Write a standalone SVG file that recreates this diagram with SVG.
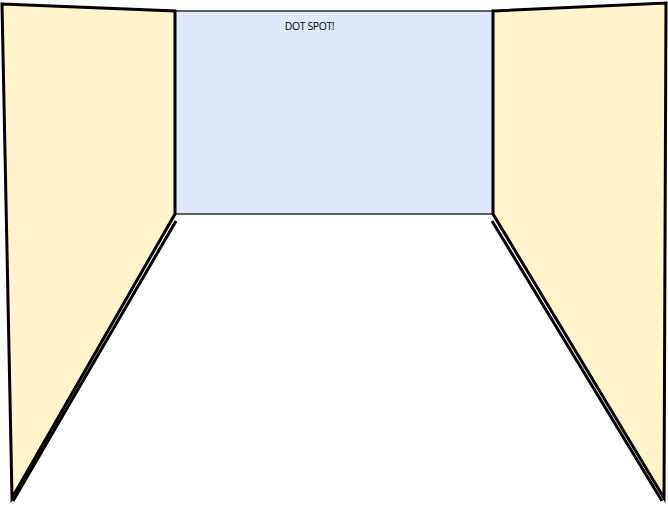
<svg xmlns="http://www.w3.org/2000/svg" width="668" height="508" viewBox="0 0 668 508">
<style>
.wall{fill:#fff4cc;stroke:#000;stroke-width:3;stroke-linejoin:miter}
.back{fill:#dfe8fc;stroke:#000;stroke-width:1.2}
.edge{fill:none;stroke:#000;stroke-width:3}
.lbl{font-family:"Open Sans","Liberation Sans",sans-serif;font-size:10.5px;fill:#000;letter-spacing:-0.4px}
</style>
<rect width="668" height="508" fill="#fff"/>
<g id="back-wall">
<rect class="back" x="175" y="11" width="318" height="203"/>
<text class="lbl" x="309.5" y="30" text-anchor="middle">DOT SPOT!</text>
</g>
<g id="left-wall">
<polygon class="wall" points="2,4 175,11 175,214 12,498"/>
</g>
<g id="right-wall">
<polygon class="wall" points="493,11 666,3 664,498 493,214"/>
</g>
<g id="connectors">
<line class="edge" x1="176" y1="221" x2="13" y2="501"/>
<line class="edge" x1="492" y1="221" x2="662" y2="501"/>
</g>
</svg>
